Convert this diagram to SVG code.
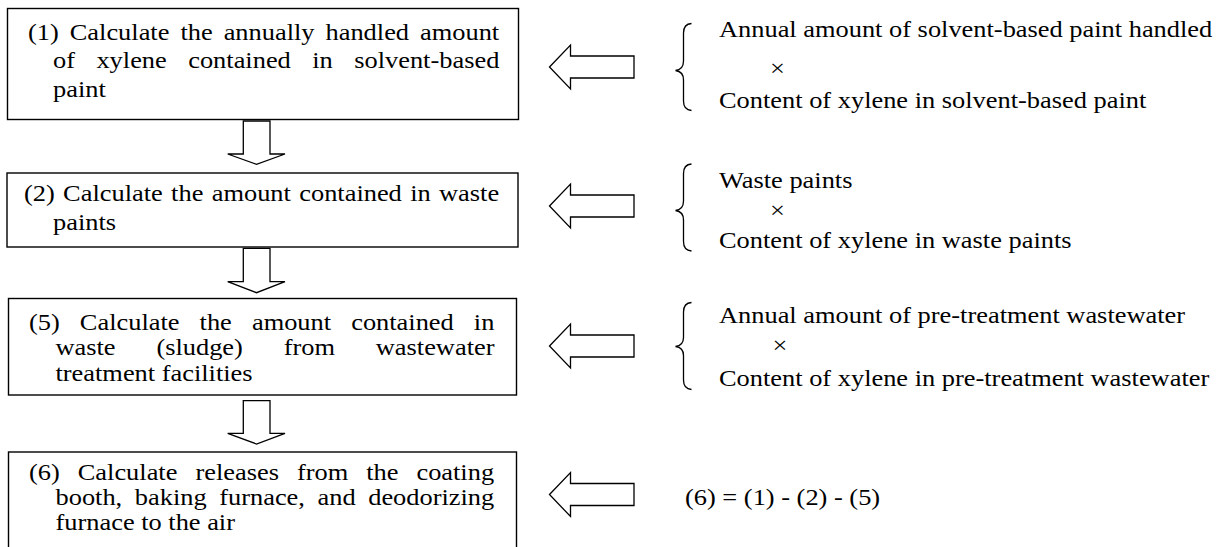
<svg xmlns="http://www.w3.org/2000/svg" width="1229" height="547" viewBox="0 0 1229 547">
  <style>
    .box { fill: #ffffff; stroke: #000000; stroke-width: 1.4; }
    .arrow { fill: #ffffff; stroke: #000000; stroke-width: 1.3; stroke-linejoin: miter; }
    .brace { fill: none; stroke: #000000; stroke-width: 1.3; }
    text { font-family: "Liberation Serif", "Times New Roman", serif; font-size: 24px; fill: #000000; }
  </style>
  <defs>
    <!-- hollow left-pointing block arrow, tip at origin -->
    <path id="leftArrow" class="arrow" d="M0,0 L21,-22 L21,-11 L84.5,-11 L84.5,11 L21,11 L21,22 Z"/>
  </defs>
  <rect width="1229" height="547" fill="#ffffff"/>

  <!-- step boxes; text is set in a slightly widened face (x 1.1) -->
  <g id="step1">
    <rect class="box" x="7.5" y="8.5" width="511" height="111"/>
    <g transform="scale(1.1 1)">
      <text x="25.45" y="40" style="word-spacing:4px">(1) Calculate the annually handled amount</text>
      <text x="48.18" y="68.5" style="word-spacing:13.5px">of xylene contained in solvent-based</text>
      <text x="48.18" y="97">paint</text>
    </g>
  </g>

  <g id="step2">
    <rect class="box" x="7" y="173" width="511" height="74"/>
    <g transform="scale(1.1 1)">
      <text x="21.82" y="201.5" style="word-spacing:1.6px">(2) Calculate the amount contained in waste</text>
      <text x="48.18" y="230">paints</text>
    </g>
  </g>

  <g id="step5">
    <rect class="box" x="8.5" y="298.5" width="508" height="96.5"/>
    <g transform="scale(1.1 1)">
      <text x="26.36" y="330" style="word-spacing:12.27px">(5) Calculate the amount contained in</text>
      <text x="50.45" y="355.5" style="word-spacing:31.1px">waste (sludge) from wastewater</text>
      <text x="50.45" y="381">treatment facilities</text>
    </g>
  </g>

  <g id="step6">
    <rect class="box" x="8.5" y="452" width="508" height="110"/>
    <g transform="scale(1.1 1)">
      <text x="26.36" y="480.5" style="word-spacing:10.36px">(6) Calculate releases from the coating</text>
      <text x="50.45" y="505" style="word-spacing:5.45px">booth, baking furnace, and deodorizing</text>
      <text x="50.45" y="530">furnace to the air</text>
    </g>
  </g>

  <!-- inputs feeding each step -->
  <g id="input1">
    <path class="brace" d="M691.5,23.5 Q683.5,24 683.5,33 L683.5,61 Q683.5,69.5 675.5,70.5 Q683.5,71.5 683.5,80 L683.5,101 Q683.5,110 691.5,110.5"/>
    <g transform="scale(1.1 1)">
      <text x="653.64" y="37">Annual amount of solvent-based paint handled</text>
      <text x="700" y="76.5">×</text>
      <text x="653.64" y="108.5">Content of xylene in solvent-based paint</text>
    </g>
  </g>

  <g id="input2">
    <path class="brace" d="M691.5,164 Q683.5,164.5 683.5,173.5 L683.5,201 Q683.5,209.5 675.5,210.5 Q683.5,211.5 683.5,220 L683.5,241.5 Q683.5,250.5 691.5,251"/>
    <g transform="scale(1.1 1)">
      <text x="653.64" y="188">Waste paints</text>
      <text x="700" y="218.3">×</text>
      <text x="653.64" y="248">Content of xylene in waste paints</text>
    </g>
  </g>

  <g id="input5">
    <path class="brace" d="M691.5,302.5 Q683.5,303 683.5,312 L683.5,337.5 Q683.5,345.5 675.5,346.5 Q683.5,347.5 683.5,355.5 L683.5,380 Q683.5,389 691.5,389.5"/>
    <g transform="scale(1.1 1)">
      <text x="653.64" y="323.5">Annual amount of pre-treatment wastewater</text>
      <text x="702.27" y="352.7">×</text>
      <text x="653.64" y="386.5">Content of xylene in pre-treatment wastewater</text>
    </g>
  </g>

  <g id="input6">
    <g transform="scale(1.1 1)">
      <text x="622.73" y="504.7">(6) = (1) - (2) - (5)</text>
    </g>
  </g>

  <!-- connectors: flow arrows between steps and from inputs -->
  <g id="connectors">
    <path class="arrow" d="M243.3,121 L270,121 L270,154 L285,154 L256.5,164.3 L227.7,154 L243.3,154 Z"/>
    <path class="arrow" d="M243.3,248.3 L270,248.3 L270,281.7 L285,281.7 L256.5,292.7 L227.7,281.7 L243.3,281.7 Z"/>
    <path class="arrow" d="M243.3,400.7 L270,400.7 L270,433.3 L285,433.3 L256.5,444 L227.7,433.3 L243.3,433.3 Z"/>
    <use href="#leftArrow" x="549.5" y="67"/>
    <use href="#leftArrow" x="549.5" y="206"/>
    <use href="#leftArrow" x="549.5" y="346"/>
    <use href="#leftArrow" x="549.5" y="494.5"/>
  </g>
</svg>
